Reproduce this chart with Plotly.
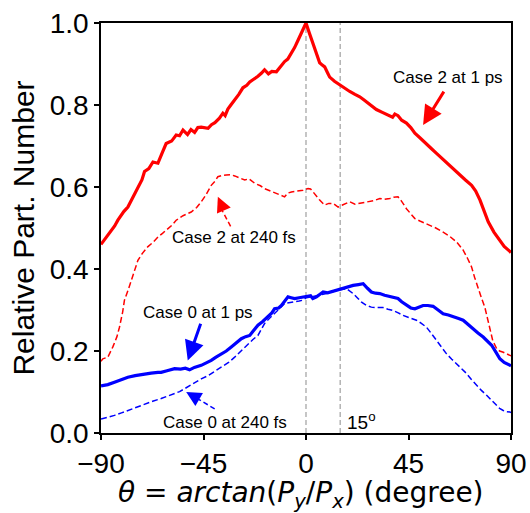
import plotly.graph_objects as go

# ---------------- data ----------------
c2_1ps_x = [-90,-88,-86,-84,-82.6,-80,-78.2,-76,-74,-72,-70.9,-69,-67.2,-65,-63,-61.4,-59,-57,-55.5,-54,-52,-50.5,-48.9,-47.5,-46,-44.5,-43,-41.5,-40,-38,-36.5,-35.5,-34.3,-33,-31.3,-29.5,-27.7,-26,-24.7,-23,-21.1,-19.5,-18.2,-16.5,-15,-13,-11,-9.4,-8,-6.4,-5,-3.5,-2,-0.6,0,1.5,3.1,4.5,6,7,8.2,9.5,10.4,12.5,14.8,17,19.2,21.5,23.6,25.5,27.3,29,30.9,33.5,36,38,39,40.4,42,44.1,46,47.8,50,52.9,55,57.3,60,63.2,65,67.6,70,72.7,74.5,76.4,78,79.3,80,82.5,85.1,87,89.5,90]
c2_1ps_y = [0.46,0.475,0.49,0.505,0.519,0.54,0.551,0.575,0.595,0.618,0.638,0.645,0.661,0.658,0.685,0.706,0.712,0.727,0.725,0.739,0.728,0.74,0.733,0.745,0.746,0.745,0.743,0.752,0.757,0.768,0.78,0.774,0.79,0.8,0.812,0.826,0.842,0.848,0.856,0.862,0.87,0.878,0.886,0.876,0.882,0.881,0.894,0.906,0.912,0.926,0.94,0.958,0.975,0.992,1.0,0.975,0.95,0.925,0.903,0.898,0.893,0.878,0.868,0.858,0.849,0.842,0.833,0.826,0.82,0.812,0.804,0.796,0.789,0.782,0.775,0.77,0.778,0.774,0.763,0.756,0.745,0.731,0.72,0.706,0.694,0.682,0.668,0.651,0.641,0.629,0.617,0.604,0.59,0.568,0.545,0.527,0.515,0.49,0.47,0.455,0.443,0.44]

c2_240fs_x = [-90,-89.2,-87,-84.8,-83,-81.9,-80.5,-79.7,-78,-76.7,-75,-73.8,-72,-69.5,-67,-65,-63,-61.4,-59,-57,-54,-50.4,-48,-46,-44,-41.6,-40,-38.7,-37,-35,-33,-31.3,-29,-26.9,-25,-22.5,-20,-18.2,-15.5,-13,-11,-9.4,-8,-6.4,-4,-1.3,0.9,2,3.1,4.5,6,8.2,10,11.9,14.1,16,19.2,21.5,23.6,26,28,30,32.4,34.5,36.8,38.5,40.4,42,44.1,46,47.8,50,52,54.4,57,60.2,63,66.1,69,71,72.7,74,75.6,77,78.5,79.7,80.7,82,83.7,85,86.6,88,89.5,90]
c2_240fs_y = [0.175,0.181,0.185,0.21,0.235,0.258,0.295,0.324,0.35,0.372,0.4,0.421,0.437,0.454,0.466,0.478,0.487,0.494,0.506,0.519,0.53,0.539,0.55,0.564,0.58,0.604,0.614,0.625,0.628,0.629,0.63,0.627,0.622,0.617,0.62,0.609,0.603,0.596,0.59,0.584,0.58,0.576,0.585,0.588,0.59,0.592,0.596,0.595,0.588,0.578,0.568,0.556,0.56,0.56,0.551,0.556,0.564,0.558,0.56,0.562,0.564,0.567,0.572,0.57,0.572,0.575,0.576,0.565,0.547,0.535,0.523,0.517,0.512,0.507,0.5,0.49,0.48,0.466,0.446,0.425,0.405,0.38,0.356,0.33,0.307,0.28,0.25,0.225,0.206,0.2,0.197,0.193,0.189,0.188]

c0_1ps_x = [-90,-87,-84.1,-81,-78.2,-75,-72,-70.9,-68,-65,-63.6,-61,-59,-57.7,-55,-53,-51.1,-49,-46,-44,-41.6,-39.5,-37.2,-35,-32.8,-30.5,-28.4,-26.5,-24.7,-23,-21.1,-19,-16.7,-15,-13.8,-12,-10.8,-9,-7.9,-6.5,-5,-3,-1.3,0.2,2,3,4.6,6,7.5,9.5,11.9,14,16.3,18.5,20.7,23,25.1,27,28.7,30.5,32.4,34.5,36.8,38.5,40.4,42,44.1,46,47.8,49.5,51.4,53.5,55.8,58,60.2,62.5,64.6,67,69,71,73.4,75.5,77.8,79.5,81.5,83.5,85.1,87,89.5,90]
c0_1ps_y = [0.115,0.118,0.124,0.13,0.136,0.14,0.143,0.145,0.146,0.148,0.148,0.152,0.155,0.157,0.156,0.158,0.154,0.16,0.165,0.17,0.177,0.185,0.193,0.2,0.21,0.22,0.23,0.235,0.238,0.25,0.263,0.272,0.283,0.293,0.303,0.305,0.311,0.325,0.332,0.33,0.328,0.33,0.332,0.332,0.335,0.328,0.332,0.338,0.344,0.342,0.346,0.348,0.352,0.356,0.36,0.362,0.364,0.353,0.344,0.341,0.34,0.336,0.333,0.331,0.328,0.32,0.311,0.305,0.303,0.306,0.311,0.311,0.309,0.3,0.291,0.288,0.283,0.279,0.275,0.265,0.254,0.244,0.234,0.225,0.214,0.196,0.181,0.172,0.165,0.164]

c0_240fs_x = [-90,-87,-84.1,-81,-78.2,-74.5,-70.9,-67,-63.6,-60.5,-57.7,-55.5,-53.3,-51,-48.9,-46,-43,-40,-37.2,-34,-31.3,-28.5,-25.5,-23.3,-21.1,-19.5,-18.2,-16,-13.8,-11.5,-9.4,-7,-5,-3,-1.3,0.2,3,6,9,11,13.4,15.5,17.8,19.3,20.7,22.5,24.4,26.5,28.7,31,33.8,36,38.2,40.5,42.6,45.5,48.5,50.5,52.9,55,57.3,59.5,61.7,64,66.1,68.3,70.5,72.7,74.9,77,79.3,81.5,83.7,85,86.6,88,89.5,90]
c0_240fs_y = [0.034,0.038,0.043,0.049,0.055,0.063,0.071,0.078,0.084,0.09,0.096,0.101,0.108,0.116,0.124,0.132,0.14,0.15,0.161,0.172,0.185,0.2,0.218,0.228,0.238,0.255,0.267,0.28,0.291,0.304,0.316,0.318,0.319,0.322,0.324,0.33,0.333,0.336,0.34,0.344,0.348,0.35,0.352,0.346,0.34,0.33,0.319,0.311,0.307,0.306,0.306,0.302,0.299,0.293,0.287,0.281,0.275,0.268,0.258,0.243,0.226,0.21,0.193,0.18,0.169,0.157,0.145,0.13,0.116,0.104,0.092,0.08,0.067,0.06,0.055,0.052,0.051,0.05]

ref_angles = [0, 15]
x_ticks = [-90, -45, 0, 45, 90]
y_ticks = [0.0, 0.2, 0.4, 0.6, 0.8, 1.0]

RED = "#ff0000"
BLUE = "#0000ff"
FONT = "Liberation Sans, Arial, sans-serif"

fig = go.Figure()
fig.add_trace(go.Scatter(x=c2_1ps_x, y=c2_1ps_y, mode="lines",
                         line=dict(color=RED, width=3.2), showlegend=False))
fig.add_trace(go.Scatter(x=c2_240fs_x, y=c2_240fs_y, mode="lines",
                         line=dict(color=RED, width=1.5, dash="6px,3px"), showlegend=False))
fig.add_trace(go.Scatter(x=c0_1ps_x, y=c0_1ps_y, mode="lines",
                         line=dict(color=BLUE, width=3.2), showlegend=False))
fig.add_trace(go.Scatter(x=c0_240fs_x, y=c0_240fs_y, mode="lines",
                         line=dict(color=BLUE, width=1.5, dash="6px,3px"), showlegend=False))

for a in ref_angles:
    fig.add_shape(type="line", x0=a, x1=a, y0=0, y1=1, xref="x", yref="y",
                  line=dict(color="#a0a0a0", width=1.2, dash="5px,3px"), layer="below")

ann_font = dict(family=FONT, size=17, color="black")
# text labels
fig.add_annotation(x=62.3, y=0.868, text="Case 2 at 1 ps", showarrow=False, font=ann_font)
fig.add_annotation(x=-31.5, y=0.477, text="Case 2 at 240 fs", showarrow=False, font=ann_font)
fig.add_annotation(x=-47.5, y=0.294, text="Case 0 at 1 ps", showarrow=False, font=ann_font)
fig.add_annotation(x=-35.5, y=0.026, text="Case 0 at 240 fs", showarrow=False, font=ann_font)
fig.add_annotation(x=17.0, y=0.03, text="15<sup>o</sup>", showarrow=False, xanchor="left",
                   font=dict(family=FONT, size=19, color="black"))

# solid arrows
fig.add_annotation(x=51.4, y=0.751, ax=21.7, ay=-35, text="", showarrow=True,
                   arrowcolor=RED, arrowwidth=3, arrowhead=2, arrowsize=1.3, standoff=0)
fig.add_annotation(x=-51.9, y=0.177, ax=13.4, ay=-38.3, text="", showarrow=True,
                   arrowcolor=BLUE, arrowwidth=3, arrowhead=2, arrowsize=1.3, standoff=0)

# dashed arrows: dashed shaft + short head
fig.add_shape(type="line", x0=-33.1, y0=0.504, x1=-37.5, y1=0.55, xref="x", yref="y",
              line=dict(color=RED, width=1.5, dash="5px,3px"))
fig.add_annotation(x=-38.7, y=0.576, ax=4.2, ay=9.6, text="", showarrow=True,
                   arrowcolor=RED, arrowwidth=1.5, arrowhead=2, arrowsize=2, standoff=0)
fig.add_shape(type="line", x0=-40.1, y0=0.059, x1=-50.5, y1=0.093, xref="x", yref="y",
              line=dict(color=BLUE, width=1.5, dash="5px,3px"))
fig.add_annotation(x=-52.6, y=0.100, ax=8.6, ay=5.0, text="", showarrow=True,
                   arrowcolor=BLUE, arrowwidth=1.5, arrowhead=2, arrowsize=2, standoff=0)

# x-axis title as paper annotation (fixed position)
fig.add_annotation(xref="paper", yref="paper", x=0.489, y=-0.151, yanchor="middle",
                   text="<i>θ</i> = <i>arctan</i>(<i>P</i><sub><i>y</i></sub>/<i>P</i><sub><i>x</i></sub>) (degree)",
                   showarrow=False, font=dict(family="DejaVu Sans, sans-serif", size=28, color="black"))

axis_common = dict(showline=True, linecolor="black", linewidth=1.5, mirror=True,
                   ticks="outside", ticklen=5, tickwidth=1.5, tickcolor="black",
                   showgrid=False, zeroline=False, automargin=False,
                   tickfont=dict(family=FONT, size=28, color="black"))

fig.update_layout(
    width=530, height=513,
    margin=dict(l=101, r=19, t=23, b=80),
    plot_bgcolor="white", paper_bgcolor="white",
    xaxis=dict(range=[-90, 90], tickvals=x_ticks,
               ticktext=[("\u2212" if v < 0 else "") + str(abs(v)) for v in x_ticks],
               **axis_common),
    yaxis=dict(range=[0, 1], tickvals=y_ticks, tickformat=".1f",
               title=dict(text="Relative Part. Number",
                          font=dict(family=FONT, size=30, color="black"), standoff=6),
               **axis_common),
)

fig.write_html("out.html", config={"displayModeBar": False},
               post_script="document.body.style.margin='0px';document.body.style.overflow='hidden';")
